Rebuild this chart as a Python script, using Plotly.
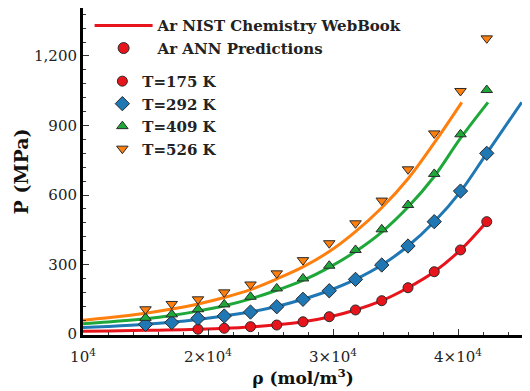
import plotly.graph_objects as go

# ANN prediction points
rho_pts = [15000, 17100, 19200, 21300, 23400, 25500, 27600, 29700, 31800, 33900, 36000, 38100, 40200, 42300]
ann_175 = [None, None, 21, 25, 32, 39, 53, 75, 104, 144, 200, 269, 363, 485]
ann_292 = [42, 50, 68, 78, 95, 118, 150, 187, 236, 298, 380, 485, 617, 780]
ann_409 = [70, 85, 107, 128, 161, 197, 240, 295, 363, 452, 557, 691, 862, 1053]
ann_526 = [107, 130, 150, 180, 214, 262, 319, 392, 478, 576, 711, 866, 1049, 1276]

# NIST WebBook curves
nist_175_x = [10000, 12000, 14000, 16000, 18000, 19200, 21300, 23400, 25500, 27600, 29700, 31800, 33900, 36000, 38100, 40200, 42300]
nist_175_y = [12, 13, 15, 17, 19, 21, 25, 31, 40, 53, 74, 104, 144, 200, 269, 363, 485]
nist_292_x = [10000, 12000, 15000, 17100, 19200, 21300, 23400, 25500, 27600, 29700, 31800, 33900, 36000, 38100, 40200, 42300, 45100]
nist_292_y = [28, 33, 42, 51, 63, 78, 96, 119, 150, 188, 236, 298, 380, 485, 615, 780, 1000]
nist_409_x = [10000, 12000, 15000, 17100, 19200, 21300, 23400, 25500, 27600, 29700, 31800, 33900, 36000, 38100, 40200, 42400]
nist_409_y = [45, 52, 66, 80, 99, 122, 152, 189, 232, 288, 356, 440, 548, 680, 845, 1000]
nist_526_x = [10000, 12000, 15000, 17100, 19200, 21300, 23400, 25500, 27600, 29700, 31800, 33900, 36000, 38100, 40300]
nist_526_y = [60, 70, 90, 108, 130, 158, 192, 238, 290, 356, 442, 545, 670, 825, 1000]

x_tickvals = [10000, 20000, 30000, 40000]
x_ticktext = ["10<sup>4</sup>", "2×10<sup>4</sup>", "3×10<sup>4</sup>", "4×10<sup>4</sup>"]
y_tickvals = [0, 300, 600, 900, 1200]

RED = "#e8141c"
BLUE = "#1f77b4"
GREEN = "#1fa83a"
ORANGE = "#ff7f0e"
EDGE = "#2a2a2a"

fig = go.Figure()

curves = [(nist_175_x, nist_175_y, RED), (nist_292_x, nist_292_y, BLUE),
          (nist_409_x, nist_409_y, GREEN), (nist_526_x, nist_526_y, ORANGE)]
for i, (cx, cy, col) in enumerate(curves):
    fig.add_trace(go.Scatter(x=cx, y=cy, mode="lines", line=dict(color=col, width=3, shape="spline", smoothing=1.0),
                             name="Ar NIST Chemistry WebBook", showlegend=(i == 0), legend="legend"))

series = [(ann_175, RED, "circle", "T=175 K", 10),
          (ann_292, BLUE, "diamond", "T=292 K", 11),
          (ann_409, GREEN, "triangle-up", "T=409 K", 10),
          (ann_526, ORANGE, "triangle-down", "T=526 K", 10)]
for vals, col, sym, nm, sz in series:
    fig.add_trace(go.Scatter(x=rho_pts, y=vals, mode="markers", name=nm,
                             marker=dict(color=col, symbol=sym, size=sz, line=dict(color=EDGE, width=1)),
                             legend="legend2"))

# legend-only marker for "Ar ANN Predictions"
fig.add_trace(go.Scatter(x=[None], y=[None], mode="markers", name="Ar ANN Predictions",
                         marker=dict(color=RED, symbol="circle", size=11, line=dict(color=EDGE, width=1)),
                         legend="legend"))

serif = "DejaVu Serif"
fig.update_layout(
    width=522, height=383,
    margin=dict(l=75, r=7, t=0, b=56, autoexpand=False),
    plot_bgcolor="white", paper_bgcolor="white",
    font=dict(family=serif, size=15, color="#222"),
    showlegend=True,
    legend=dict(x=0.015, y=0.996, xanchor="left", yanchor="top", bgcolor="rgba(0,0,0,0)",
                font=dict(family=serif, size=15, color="#222", weight="bold"),
                itemwidth=58, tracegroupgap=0, traceorder="normal"),
    legend2=dict(x=0.044, y=0.826, xanchor="left", yanchor="top", bgcolor="rgba(0,0,0,0)",
                 font=dict(family=serif, size=15, color="#222", weight="bold"),
                 itemwidth=30, tracegroupgap=0, traceorder="normal"),
    xaxis=dict(range=[10000, 45200], tickvals=x_tickvals, ticktext=x_ticktext, automargin=False,
               ticks="inside", ticklen=6, tickwidth=1, tickcolor="#333", ticklabelstandoff=6,
               minor=dict(dtick=2000, ticks="inside", ticklen=3, tickcolor="#333", showgrid=False),
               showline=True, linecolor="black", linewidth=3, mirror=True, showgrid=False, zeroline=False,
               tickfont=dict(family=serif, size=15, color="#222"),
               title=dict(text="ρ (mol/m<sup>3</sup>)", font=dict(family=serif, size=17, color="#111", weight="bold"), standoff=6)),
    yaxis=dict(range=[-4, 1407], tickvals=y_tickvals, tickformat=",d", automargin=False,
               ticks="inside", ticklen=6, tickwidth=1, tickcolor="#333",
               minor=dict(dtick=60, ticks="inside", ticklen=3, tickcolor="#333", showgrid=False),
               showline=True, linecolor="black", linewidth=3, mirror=True, showgrid=False, zeroline=False,
               tickfont=dict(family=serif, size=15, color="#222"),
               title=dict(text="P (MPa)", font=dict(family=serif, size=19, color="#111", weight="bold"), standoff=1)),
)

fig.write_html("out.html")
